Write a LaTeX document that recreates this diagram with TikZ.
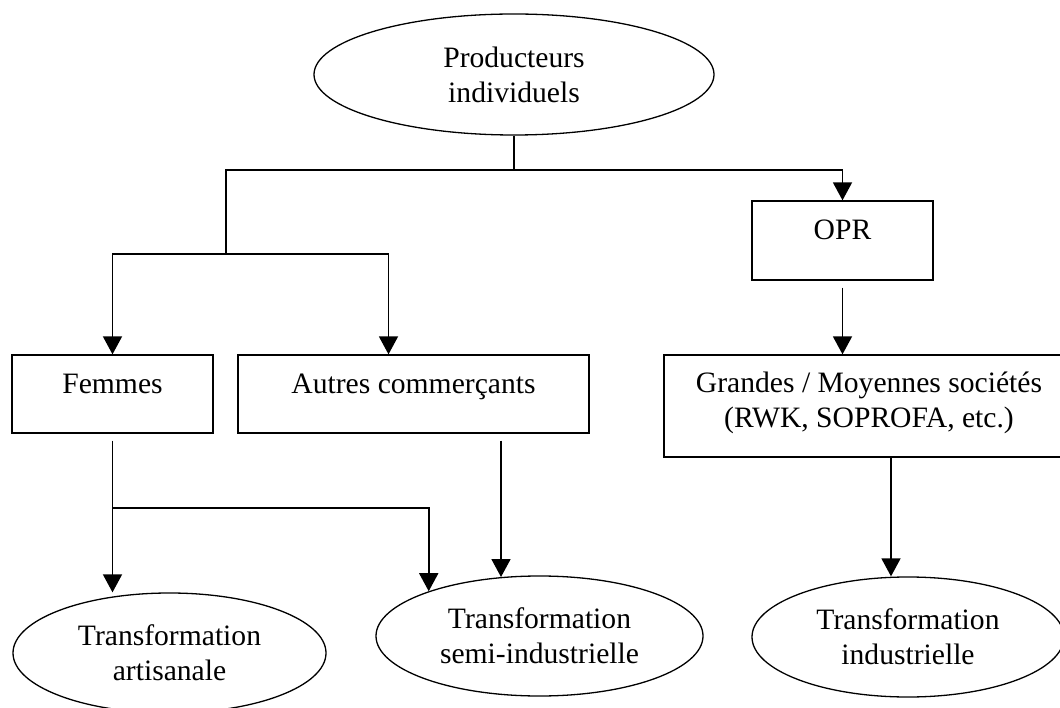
\documentclass[tikz,border=0pt]{standalone}
\usepackage{fontspec}
\setmainfont{Liberation Serif}
\usetikzlibrary{arrows.meta,shapes.geometric,calc}
\begin{document}
\begin{tikzpicture}[x=1pt,y=-1pt,
  every node/.style={font=\fontsize{29.6}{35}\selectfont},
  ell/.style={draw, ellipse, line width=1.3pt, inner sep=0pt, align=center},
  boxn/.style={draw, rectangle, line width=1.3pt, inner sep=0pt},
  lbl/.style={inner sep=0pt, align=center},
  conn/.style={line width=1.3pt},
  arr/.style={line width=1.7pt, -{Triangle[width=19pt,length=18pt]}},
]
\clip (0,0) rectangle (1060,708);
\fill[white] (0,0) rectangle (1060,708);

\node[ell, minimum width=400pt, minimum height=121pt] (prod) at (514,74.5) {Producteurs\\individuels};
\node[boxn, minimum width=181pt, minimum height=79pt] (opr) at (842.5,240.5) {};
\node[lbl, anchor=base] (oprT) at (842.5,240) {OPR};
\node[boxn, minimum width=201pt, minimum height=78pt] (fem) at (112.5,394) {};
\node[lbl, anchor=base] (femT) at (112.5,393) {Femmes};
\node[boxn, minimum width=351pt, minimum height=78pt] (aut) at (413.5,394) {};
\node[lbl, anchor=base] (autT) at (413.5,393) {Autres commerçants};
\node[boxn, minimum width=411pt, minimum height=102pt] (gms) at (869.5,406) {};
\node[lbl] (gmsT) at (869,403) {Grandes / Moyennes sociétés\\(RWK, SOPROFA, etc.)};
\node[ell, minimum width=313pt, minimum height=120pt] (art) at (169.5,653) {Transformation\\artisanale};
\node[ell, minimum width=327pt, minimum height=120pt] (semi) at (539.5,636) {Transformation\\semi-industrielle};
\node[ell, minimum width=312pt, minimum height=120pt] (ind) at (908,637) {Transformation\\industrielle};

\coordinate (j1) at (prod.south |- 0,170);
\coordinate (j2) at (226,254);
\draw[conn] (prod.south) -- (j1);
\draw[arr] (j1) -| (opr.north);
\draw[conn] (j1) -| (j2);
\draw[arr] (j2) -| (fem.north);
\coordinate (autin) at ([xshift=-25pt]aut.north);
\draw[arr] (j2) -| (autin);

\coordinate (fs) at ([yshift=-7pt]fem.south);
\coordinate (j3) at (fs |- 0,508);
\draw[arr] (fs) -- (j3 |- art.north);
\draw[arr] (j3) -| (semi.158.9);

\coordinate (as) at ([xshift=87.5pt,yshift=-7pt]aut.south);
\draw[arr] (as) -- (as |- semi.123.4);

\coordinate (os) at ([yshift=-7pt]opr.south);
\draw[arr] (os) -- (os |- gms.north);

\coordinate (gs) at ([xshift=21.5pt]gms.south);
\draw[arr] (gs) -- (gs |- ind.north);
\end{tikzpicture}
\end{document}
